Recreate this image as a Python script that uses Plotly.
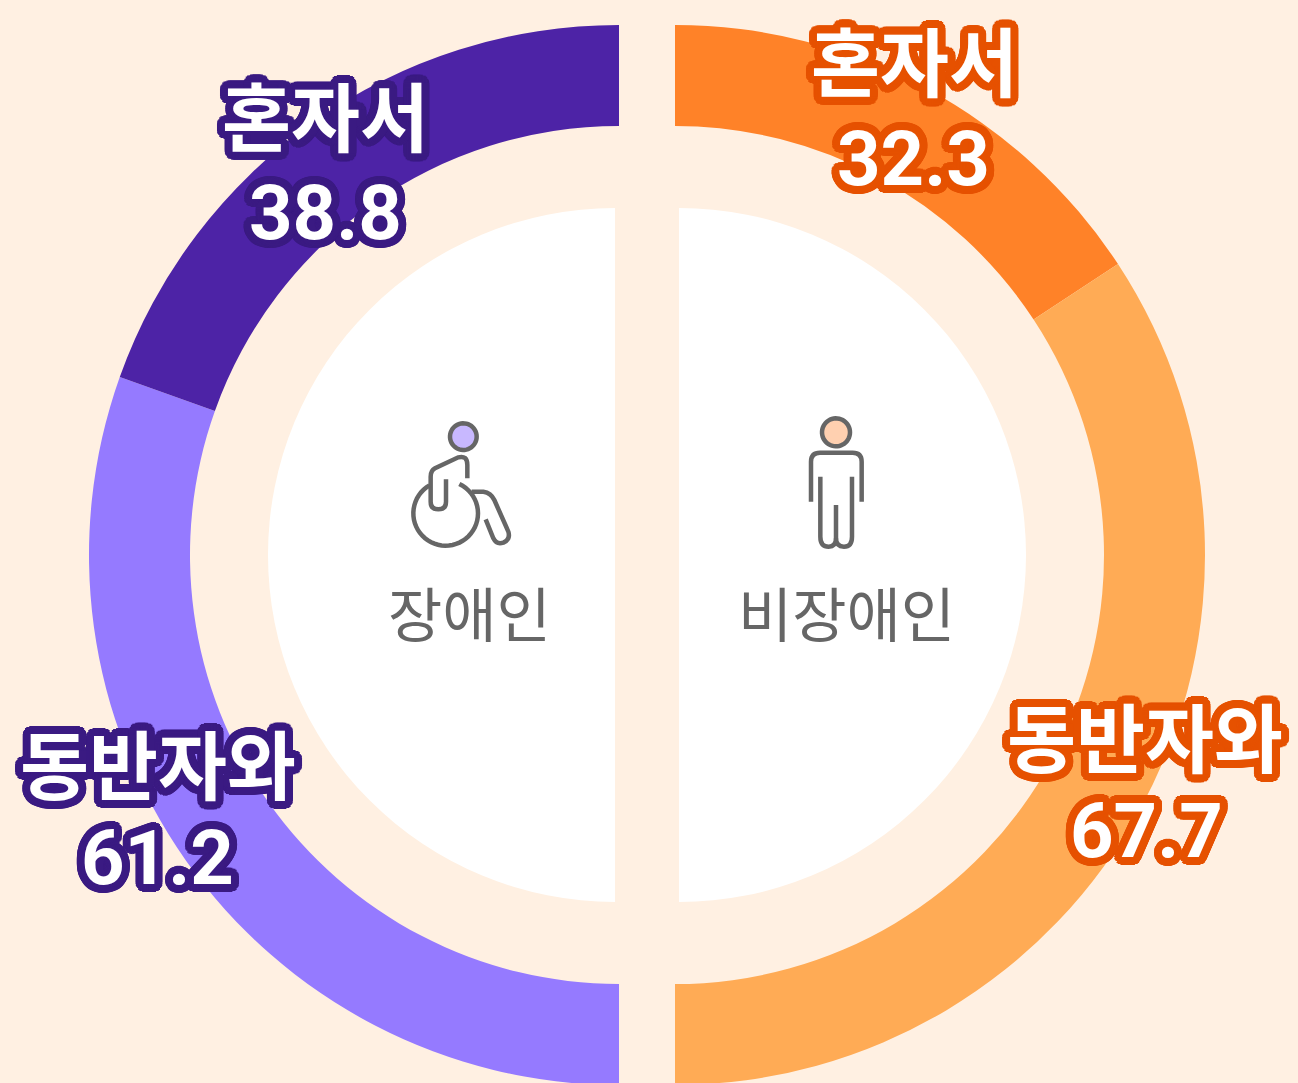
import math
import numpy as np
import plotly.graph_objects as go

W, H = 1298, 1085

# --- data ---
categories = ["혼자서", "동반자와"]
# values printed on the chart
disabled_values = [38.8, 61.2]
nondisabled_values = [32.3, 67.7]
disabled_arcs = [39.1, 60.9]
nondisabled_arcs = [31.5, 68.5]
group_labels = ["장애인", "비장애인"]

# --- colours ---
BG = "#FFF0E2"
PURPLES = ["#4D23A6", "#957AFF"]
ORANGES = ["#FF8228", "#FFAB55"]
PURPLE_EDGE = "#3A1A82"
ORANGE_EDGE = "#E65100"
ICON = "#666666"
CLEAR = "rgba(0,0,0,0)"


def px(x):
    return x / W


def py(y):
    return 1 - y / H


def dom(cx, cy, r):
    return dict(x=[px(cx - r), px(cx + r)], y=[py(cy + r), py(cy - r)])


def ring(values, colors, labels, cx):
    # half of each circle is an invisible slice
    return go.Pie(
        values=values, labels=labels,
        marker=dict(colors=colors, line=dict(width=0)),
        domain=dom(cx, 555, 530), hole=429 / 530, sort=False, rotation=0,
        direction="clockwise", textinfo="none", hoverinfo="skip", showlegend=False,
    )


def half_disc(cx, colors):
    return go.Pie(
        values=[1, 1], labels=["a", "b"],
        marker=dict(colors=colors, line=dict(width=0)),
        domain=dom(cx, 555, 347), sort=False, rotation=0,
        direction="clockwise", textinfo="none", hoverinfo="skip", showlegend=False,
    )


fig = go.Figure([
    half_disc(615, [CLEAR, "#FFFFFF"]),
    half_disc(679, ["#FFFFFF", CLEAR]),
    ring([sum(disabled_arcs), disabled_arcs[1], disabled_arcs[0]],
         [CLEAR, PURPLES[1], PURPLES[0]], ["_", categories[1], categories[0]], 619),
    ring([nondisabled_arcs[0], nondisabled_arcs[1], sum(nondisabled_arcs)],
         [ORANGES[0], ORANGES[1], CLEAR], [categories[0], categories[1], "_"], 675),
])


def outline(color, r=8):
    parts = []
    for rad, n in ((r, 32), (r * 0.55, 16)):
        for i in range(n):
            a = 2 * math.pi * i / n
            parts.append(f"{rad * math.cos(a):.1f}px {rad * math.sin(a):.1f}px 0 {color}")
    return ", ".join(parts)


annotations = []


def label(text, x, y, edge, family, size):
    annotations.append(dict(
        text=text, x=px(x), y=py(y), xref="paper", yref="paper",
        showarrow=False, xanchor="center", yanchor="middle", align="center",
        font=dict(family=family, size=size, weight=700, color="#FFFFFF",
                  shadow=outline(edge)),
    ))


KR = "Noto Sans CJK KR"
NUM = "Roboto"
label(categories[0], 325, 114, PURPLE_EDGE, KR, 75)
label(f"{disabled_values[0]}", 325, 213, PURPLE_EDGE, NUM, 76)
label(categories[1], 158, 761, PURPLE_EDGE, KR, 75)
label(f"{disabled_values[1]}", 157, 858, PURPLE_EDGE, NUM, 76)
label(categories[0], 914, 59, ORANGE_EDGE, KR, 75)
label(f"{nondisabled_values[0]}", 913, 159, ORANGE_EDGE, NUM, 76)
label(categories[1], 1145, 734, ORANGE_EDGE, KR, 75)
label(f"{nondisabled_values[1]}", 1146, 831, ORANGE_EDGE, NUM, 76)

for text, x in zip(group_labels, [470, 846]):
    annotations.append(dict(
        text=text, x=px(x), y=py(611), xref="paper", yref="paper", showarrow=False,
        xanchor="center", yanchor="middle",
        font=dict(family=KR, size=59, weight=400, color=ICON),
    ))


# --- icons: drawn in crop coordinates (3x) relative to an origin ---
def icon_path(ox, oy, cmds):
    out = []
    for c in cmds:
        if isinstance(c, str):
            out.append(c)
        else:
            out.append(f"{px(ox + c[0] / 3):.5f},{py(oy + c[1] / 3):.5f}")
    return " ".join(out)


def stroke_shape(ox, oy, cmds, fill=None):
    s = dict(type="path", xref="paper", yref="paper",
             path=icon_path(ox, oy, cmds), line=dict(color=ICON, width=4.5))
    if fill:
        s["fillcolor"] = fill
    return s


def arc_cmds(cx, cy, r, a0, a1, n=48, close=False):
    cmds = []
    for i, a in enumerate(np.linspace(a0, a1, n)):
        t = math.radians(a)
        cmds += ["M" if i == 0 else "L", (cx + r * math.cos(t), cy + r * math.sin(t))]
    if close:
        cmds.append("Z")
    return cmds


shapes = [
    # wheelchair
    stroke_shape(380, 400, arc_cmds(250, 110, 40, 0, 360, close=True), "#C8B8FF"),
    stroke_shape(380, 400, ["M", (262, 235), "L", (262, 195), "Q", (262, 165), (235, 172),
                            "L", (165, 205), "Q", (152, 212), (152, 230), "L", (152, 305),
                            "Q", (152, 328), (175, 328), "Q", (198, 328), (198, 305),
                            "L", (198, 238)]),
    stroke_shape(380, 400, arc_cmds(197, 340, 97, -65, 240)),
    stroke_shape(380, 400, ["M", (275, 275), "L", (310, 275), "Q", (333, 278), (343, 300),
                            "L", (385, 395), "Q", (392, 418), (370, 428),
                            "Q", (350, 435), (340, 415), "L", (317, 358)]),
    # person
    stroke_shape(730, 400, arc_cmds(318, 97, 42, 0, 360, close=True), "#FFD0B0"),
    stroke_shape(730, 400, ["M", (243, 305), "L", (243, 185), "Q", (243, 158), (270, 158),
                            "L", (368, 158), "Q", (395, 158), (395, 185), "L", (395, 305)]),
    stroke_shape(730, 400, ["M", (271, 230), "L", (271, 410), "Q", (271, 440), (296, 440),
                            "Q", (318, 440), (318, 415), "L", (318, 315)]),
    stroke_shape(730, 400, ["M", (318, 415), "Q", (318, 440), (342, 440),
                            "Q", (366, 440), (366, 410), "L", (366, 230)]),
]

fig.update_layout(
    width=W, height=H, margin=dict(l=0, r=0, t=0, b=0, pad=0, autoexpand=False),
    paper_bgcolor=BG, plot_bgcolor=BG, showlegend=False,
    annotations=annotations, shapes=shapes,
)

fig.write_html(
    "out.html",
    config={"displayModeBar": False},
    post_script="document.documentElement.style.overflow='hidden';"
                "document.body.style.margin='0';document.body.style.overflow='hidden';",
)
